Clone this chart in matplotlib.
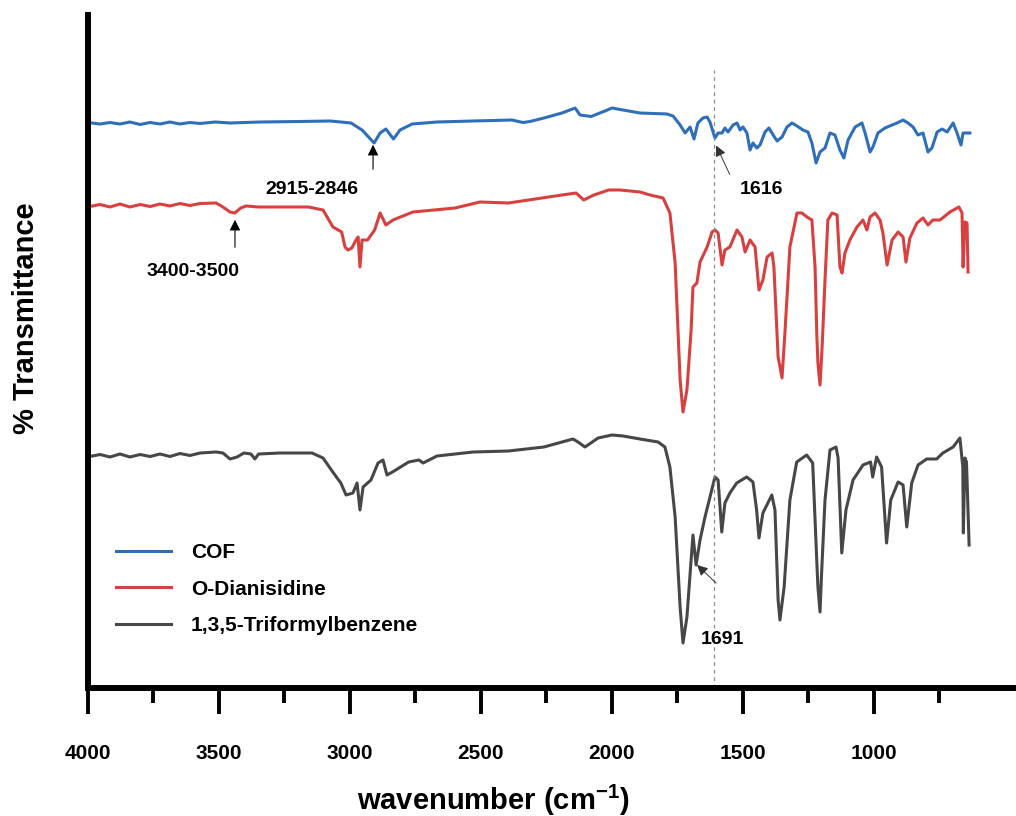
import matplotlib
matplotlib.use('Agg')
import matplotlib.pyplot as plt

plt.rcParams['font.family'] = ['Liberation Sans', 'DejaVu Sans']
plt.rcParams['font.weight'] = 'bold'
plt.rcParams['mathtext.fontset'] = 'custom'
plt.rcParams['mathtext.bf'] = 'Liberation Sans:bold'
plt.rcParams['mathtext.rm'] = 'Liberation Sans:bold'

# spectra (wavenumber in cm-1, offset transmittance in a.u.)
cof_wn = [3985, 3954, 3916, 3878, 3840, 3801, 3763, 3725, 3687, 3649, 3611, 3572, 3515, 3458,
          3343, 3191, 3076, 2996, 2954, 2908, 2885, 2863, 2834, 2809, 2763, 2668, 2530, 2382,
          2340, 2313, 2260, 2191, 2141, 2122, 2080, 2027, 2000, 1958, 1893, 1790, 1767, 1740,
          1721, 1702, 1687, 1672, 1653, 1637, 1626, 1607, 1595, 1580, 1569, 1557, 1538, 1523,
          1511, 1500, 1485, 1473, 1462, 1447, 1435, 1416, 1401, 1385, 1370, 1351, 1332, 1313,
          1294, 1271, 1252, 1237, 1221, 1206, 1187, 1168, 1149, 1130, 1115, 1099, 1072, 1046,
          1034, 1015, 1004, 985, 958, 931, 912, 889, 870, 851, 832, 813, 794, 779, 759, 740,
          721, 698, 683, 668, 660, 634]
cof_t = [56.5, 56.4, 56.55, 56.4, 56.6, 56.35, 56.55, 56.4, 56.6, 56.4, 56.55, 56.45, 56.6, 56.5,
         56.6, 56.65, 56.7, 56.5, 55.8, 54.5, 55.5, 55.9, 54.9, 55.8, 56.4, 56.6, 56.7, 56.8,
         56.55, 56.65, 57.0, 57.5, 58.0, 57.3, 57.15, 57.7, 58.0, 57.8, 57.5, 57.4, 57.2, 56.3,
         55.5, 56.1, 54.9, 56.5, 57.0, 57.1, 56.6, 55.0, 55.5, 55.5, 56.0, 55.6, 56.3, 56.5,
         55.8, 56.1, 55.5, 53.8, 54.5, 54.0, 54.3, 55.6, 56.0, 55.3, 54.7, 55.1, 56.1, 56.5,
         56.2, 55.8, 55.6, 54.5, 52.5, 53.6, 54.0, 55.5, 55.3, 53.8, 53.0, 54.8, 56.1, 56.5,
         55.5, 53.6, 54.1, 55.5, 56.0, 56.3, 56.5, 56.8, 56.5, 56.1, 55.3, 55.5, 53.6, 54.0,
         55.6, 55.9, 55.6, 56.5, 55.5, 54.3, 55.5, 55.5]

dian_wn = [3983, 3954, 3916, 3878, 3840, 3801, 3763, 3725, 3687, 3649, 3611, 3572, 3511, 3485,
           3458, 3440, 3417, 3397, 3349, 3267, 3158, 3103, 3065, 3032, 3019, 3008, 2993, 2977,
           2969, 2962, 2954, 2933, 2906, 2885, 2863, 2836, 2760, 2599, 2504, 2395, 2191, 2137,
           2108, 2069, 2013, 1969, 1893, 1855, 1805, 1779, 1759, 1740, 1729, 1714, 1698, 1691,
           1676, 1664, 1637, 1618, 1607, 1595, 1580, 1569, 1550, 1523, 1504, 1492, 1473, 1454,
           1439, 1424, 1408, 1389, 1382, 1366, 1351, 1340, 1321, 1294, 1275, 1256, 1237, 1225,
           1218, 1214, 1206, 1198, 1187, 1176, 1160, 1141, 1130, 1122, 1111, 1092, 1065, 1042,
           1027, 1015, 996, 977, 966, 950, 931, 908, 889, 878, 863, 836, 813, 794, 775, 748,
           710, 676, 664, 660, 653, 645, 641]
dian_t = [48.2, 48.35, 48.1, 48.4, 48.1, 48.35, 48.15, 48.4, 48.2, 48.45, 48.25, 48.45, 48.5, 48.1,
          47.6, 47.5, 48.0, 48.2, 48.1, 48.1, 48.1, 47.8, 46.1, 45.6, 44.1, 43.8, 44.0, 44.8,
          45.1, 42.1, 44.8, 44.8, 45.8, 47.5, 46.3, 46.8, 47.6, 48.0, 48.6, 48.5, 49.3, 49.5,
          48.8, 49.3, 49.8, 49.8, 49.6, 49.3, 49.0, 47.5, 42.5, 30.8, 27.6, 29.8, 35.8, 40.1,
          40.5, 42.6, 44.1, 45.6, 45.8, 45.5, 42.3, 43.8, 44.1, 45.8, 45.1, 43.6, 44.8, 44.1,
          39.8, 40.8, 43.1, 43.5, 42.1, 33.1, 31.0, 35.5, 44.1, 47.5, 47.5, 47.1, 46.8, 42.1,
          35.1, 32.5, 30.3, 34.1, 40.8, 46.8, 47.5, 47.3, 42.1, 41.5, 43.5, 44.8, 46.1, 46.8,
          45.8, 47.1, 47.5, 46.8, 45.5, 42.3, 44.8, 45.6, 45.1, 42.6, 45.0, 46.5, 47.0, 46.3,
          46.8, 46.8, 47.6, 48.1, 47.5, 42.1, 46.6, 46.5, 41.6]

tfb_wn = [3983, 3954, 3916, 3878, 3840, 3801, 3763, 3725, 3687, 3649, 3611, 3572, 3511, 3485,
          3458, 3431, 3405, 3378, 3363, 3349, 3267, 3145, 3103, 3063, 3035, 3015, 2989, 2973,
          2962, 2950, 2920, 2893, 2874, 2859, 2838, 2776, 2737, 2721, 2668, 2530, 2395, 2260,
          2149, 2130, 2103, 2053, 2000, 1958, 1893, 1824, 1798, 1779, 1759, 1740, 1729, 1714,
          1700, 1691, 1679, 1664, 1645, 1626, 1607, 1595, 1581, 1569, 1550, 1524, 1486, 1462,
          1448, 1439, 1424, 1390, 1378, 1366, 1359, 1343, 1321, 1295, 1257, 1234, 1219, 1214,
          1206, 1200, 1187, 1168, 1145, 1137, 1123, 1107, 1080, 1042, 1013, 1005, 990, 971,
          952, 936, 908, 889, 875, 856, 832, 799, 761, 737, 698, 672, 661, 659, 653, 647, 637]
tfb_t = [23.2, 23.35, 23.1, 23.4, 23.1, 23.35, 23.15, 23.4, 23.15, 23.45, 23.25, 23.5, 23.6, 23.5,
         22.9, 23.1, 23.5, 23.4, 22.9, 23.4, 23.5, 23.5, 23.0, 21.5, 20.5, 19.3, 19.5, 20.5,
         17.8, 20.1, 20.8, 22.5, 22.8, 21.3, 21.6, 22.6, 22.8, 22.5, 23.2, 23.6, 23.7, 24.1,
         24.9, 24.6, 24.1, 25.0, 25.3, 25.2, 24.9, 24.6, 24.1, 22.1, 17.1, 8.1, 4.5, 7.1,
         12.1, 15.3, 12.3, 14.8, 17.1, 19.1, 21.1, 20.8, 15.6, 18.5, 19.5, 20.5, 21.1, 20.6,
         17.8, 15.0, 17.5, 19.3, 17.8, 8.8, 6.8, 10.1, 18.8, 22.6, 23.3, 22.5, 13.1, 10.1,
         7.6, 11.5, 18.8, 23.8, 24.1, 23.0, 13.5, 17.8, 20.8, 22.3, 22.6, 21.1, 23.1, 22.1,
         14.5, 18.8, 20.6, 20.3, 16.1, 20.5, 22.3, 22.9, 22.9, 23.5, 24.1, 25.0, 22.1, 15.5,
         23.0, 22.6, 14.3]

labels = ['COF', 'O-Dianisidine', '1,3,5-Triformylbenzene']
colors = ['#2f6fba', '#d8403f', '#474747']
marker_line = 1611

fig = plt.figure(figsize=(10.16, 8.16), dpi=100)
ax = fig.add_axes([88 / 1016, 128 / 816, 1 - 88 / 1016, (688 - 15) / 816])

for wn, t, lab, c in zip([cof_wn, dian_wn, tfb_wn], [cof_t, dian_t, tfb_t], labels, colors):
    ax.plot(wn, t, color=c, lw=2.2, label=lab, solid_joinstyle='round')

ax.plot([marker_line, marker_line], [0, 61.8], color='#8a8a8a', lw=0.9, ls=(0, (3, 3)))

ax.set_xlim(4000, 458)
ax.set_ylim(0, 67.3)
ax.set_xticks([4000, 3500, 3000, 2500, 2000, 1500, 1000])
ax.set_xticks([3750, 3250, 2750, 2250, 1750, 1250, 750], minor=True)
ax.set_yticks([])
for s in ('top', 'right'):
    ax.spines[s].set_visible(False)
ax.spines['left'].set_linewidth(4.3)
ax.spines['bottom'].set_linewidth(4.3)
ax.tick_params(axis='x', which='major', direction='out', length=19, width=2.8, pad=21,
               labelsize=15)
ax.tick_params(axis='x', which='minor', direction='out', length=11, width=2.8)
for lbl in ax.get_xticklabels():
    lbl.set_fontweight('bold')

ax.set_xlabel(r'wavenumber (cm$\mathbf{^{-1}}$)', fontsize=21, fontweight='bold')
ax.xaxis.set_label_coords((493 - 88) / 928, -(800 - 688) / 673, transform=ax.transAxes)
ax.xaxis.label.set_va('center')
ax.set_ylabel('% Transmittance', fontsize=21, fontweight='bold')
ax.yaxis.set_label_coords((26 - 88) / 928, (688 - 318) / 673, transform=ax.transAxes)
ax.yaxis.label.set_va('center')

arrow = dict(arrowstyle='-|>', color='black', lw=0.8, mutation_scale=16)
arrow_g = dict(arrowstyle='-|>', color='#333333', lw=0.7, mutation_scale=16)
ax.annotate('', xy=(2912, 54.6), xytext=(2912, 51.6), arrowprops=arrow)
ax.text(3145, 49.9, '2915-2846', ha='center', va='center', fontsize=14, fontweight='bold')
ax.annotate('', xy=(3439, 47.1), xytext=(3439, 43.8), arrowprops=arrow)
ax.text(3599, 41.6, '3400-3500', ha='center', va='center', fontsize=14, fontweight='bold')
ax.annotate('', xy=(1607, 54.5), xytext=(1546, 51.1), arrowprops=arrow_g)
ax.text(1431, 49.8, '1616', ha='center', va='center', fontsize=14, fontweight='bold')
ax.annotate('', xy=(1683, 12.5), xytext=(1595, 10.3), arrowprops=arrow_g)
ax.text(1580, 4.8, '1691', ha='center', va='center', fontsize=14, fontweight='bold')

leg = ax.legend(loc='upper left', bbox_to_anchor=(116 / 1016, 1 - 543 / 816),
                bbox_transform=fig.transFigure, frameon=False, fontsize=15,
                handlelength=2.65, handletextpad=0.95, labelspacing=0.85,
                borderpad=0, borderaxespad=0)
for txt in leg.get_texts():
    txt.set_fontweight('bold')

plt.savefig('out.png', dpi=100)
plt.close()
